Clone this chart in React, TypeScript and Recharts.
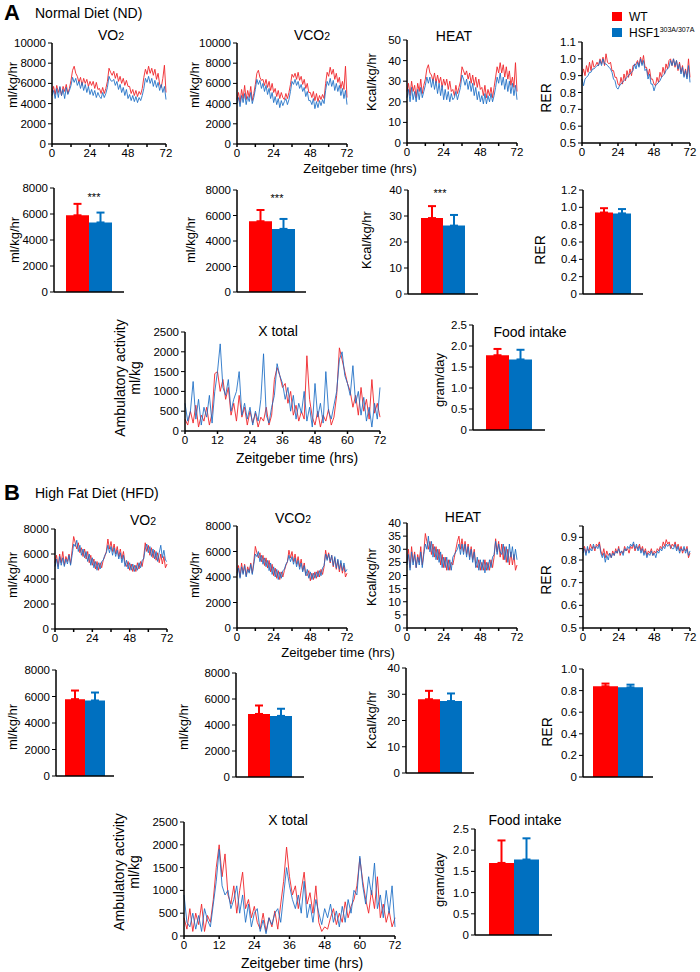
import React from 'react';
import { Bar, BarChart, ErrorBar, Line, LineChart, XAxis, YAxis } from 'recharts';

// ---------- data ----------
const hours = [
  0, 1, 2, 3, 4, 5, 6, 7, 8, 9, 10, 11, 12, 13, 14, 15, 16, 17, 18, 19, 20, 21, 22, 23, 24,
  25, 26, 27, 28, 29, 30, 31, 32, 33, 34, 35, 36, 37, 38, 39, 40, 41, 42, 43, 44, 45, 46, 47, 48,
  49, 50, 51, 52, 53, 54, 55, 56, 57, 58, 59, 60, 61, 62, 63, 64, 65, 66, 67, 68, 69, 70, 71, 72,
];

// Normal diet time courses (WT = red, HSF1 303A/307A = blue)
const ndVo2Wt = [
  5100, 5700, 4900, 5800, 5100, 5600, 4800, 5700, 5200, 5900, 5000, 5500, 6300,
  7300, 7700, 7000, 6700, 6100, 6600, 5800, 6500, 6000, 6400, 5700, 6200,
  5800, 6200, 5500, 6100, 5400, 5500, 5000, 5600, 5000, 5500, 6200, 7500,
  7100, 6800, 7200, 6500, 7000, 6200, 6700, 6000, 6500, 5800, 6300, 5700,
  5700, 5000, 5400, 4800, 5300, 4700, 5200, 4900, 5500, 6600, 7400, 6900,
  7700, 7000, 7500, 6800, 7400, 6400, 7000, 5900, 5600, 6500, 7800, 5100,
];
const ndVo2Ko = [
  4800, 5300, 4500, 5500, 4600, 5700, 4800, 5400, 4500, 5600, 4900, 5300, 5800,
  6600, 6100, 6500, 5800, 6200, 5500, 6100, 5300, 5900, 5100, 5700, 4900,
  5400, 4800, 5300, 4600, 5100, 4700, 4500, 5100, 4600, 5000, 5600, 6700,
  6300, 6200, 6400, 5800, 6200, 5400, 5900, 5100, 5600, 4800, 5400, 4500,
  4900, 4300, 4800, 4200, 4700, 4100, 4600, 4300, 4800, 5500, 6500, 6100,
  6700, 6000, 6500, 5700, 6300, 5600, 6100, 5300, 5900, 5100, 5700, 4400,
];
const ndVco2Wt = [
  4400, 5100, 4100, 5400, 4500, 5800, 4400, 5300, 4600, 5700, 4300, 5000, 5900,
  7000, 7300, 6600, 6300, 6400, 5800, 6400, 5600, 6200, 5300, 6000, 5100,
  5500, 4700, 5300, 4500, 5100, 4600, 4400, 5000, 4500, 5100, 5900, 6900,
  6600, 7000, 6400, 7100, 6300, 6700, 5900, 6400, 5500, 6000, 5100, 5100,
  4600, 5200, 4300, 5000, 4200, 4800, 4400, 4900, 4500, 6000, 7100, 6700,
  7600, 6900, 7400, 6400, 7000, 6100, 6600, 5500, 6200, 5400, 7700, 4600,
];
const ndVco2Ko = [
  4000, 4600, 3700, 4800, 4100, 5000, 3900, 4700, 4200, 5100, 4000, 4600, 5400,
  6400, 5900, 6300, 5500, 6000, 5200, 5800, 4900, 5500, 4500, 5100, 4100,
  4700, 3900, 4500, 3600, 4300, 3800, 4200, 4500, 3900, 4400, 5200, 6200,
  5900, 6400, 5800, 6200, 5500, 5900, 5200, 5600, 4700, 5200, 4300, 4300,
  3900, 4500, 3500, 4200, 3600, 4300, 3800, 4400, 4000, 5300, 6200, 5800,
  6500, 5700, 6300, 5300, 6000, 5200, 5800, 4800, 5500, 4500, 5300, 3900,
];
const ndHeatWt = [
  25, 29, 23, 30, 25, 28, 22, 29, 25, 31, 24, 28, 31,
  36, 38, 34, 33, 30, 34, 29, 33, 29, 32, 27, 31,
  28, 31, 26, 30, 25, 26, 23, 28, 24, 27, 30, 37,
  35, 33, 35, 31, 34, 29, 33, 28, 32, 27, 31, 26,
  27, 23, 28, 22, 26, 23, 27, 22, 27, 32, 37, 34,
  39, 34, 38, 32, 37, 31, 35, 28, 32, 27, 39, 25,
];
const ndHeatKo = [
  22, 26, 20, 27, 21, 25, 20, 26, 21, 27, 22, 25, 28,
  32, 29, 32, 27, 31, 26, 30, 24, 29, 23, 28, 21,
  26, 21, 25, 20, 24, 21, 22, 25, 21, 24, 27, 33,
  31, 28, 31, 26, 30, 25, 29, 23, 27, 21, 25, 20,
  23, 19, 24, 19, 23, 20, 24, 20, 23, 27, 32, 29,
  34, 28, 32, 26, 31, 25, 30, 24, 29, 23, 28, 21,
];
const ndRerWt = [
  0.90, 0.94, 0.90, 0.96, 0.92, 0.98, 0.93, 0.99, 0.95, 0.96, 0.98, 0.96, 1.00,
  0.97, 1.01, 0.96, 1.03, 0.98, 0.97, 0.98, 0.93, 0.93, 0.89, 0.89, 0.85,
  0.84, 0.89, 0.85, 0.91, 0.87, 0.93, 0.89, 0.94, 0.90, 0.96, 0.96, 0.97,
  0.99, 0.96, 1.01, 0.97, 1.02, 0.95, 0.95, 0.90, 0.94, 0.88, 0.88, 0.85,
  0.84, 0.89, 0.86, 0.92, 0.89, 0.95, 0.91, 0.97, 0.94, 0.99, 1.00, 0.96,
  1.00, 0.95, 0.99, 0.93, 0.98, 0.92, 0.96, 0.90, 0.94, 0.89, 1.00, 0.89,
];
const ndRerKo = [
  0.88, 0.84, 0.88, 0.89, 0.90, 0.92, 0.92, 0.94, 0.94, 0.95, 0.96, 0.96, 0.99,
  0.96, 1.00, 0.97, 0.97, 0.96, 0.95, 0.94, 0.92, 0.88, 0.87, 0.83, 0.82,
  0.84, 0.85, 0.86, 0.87, 0.88, 0.89, 0.90, 0.91, 0.92, 0.93, 0.97, 0.94,
  0.98, 0.95, 1.00, 0.96, 0.99, 0.93, 0.94, 0.88, 0.91, 0.85, 0.85, 0.81,
  0.84, 0.85, 0.86, 0.87, 0.89, 0.90, 0.91, 0.93, 0.94, 0.95, 0.99, 0.96,
  1.00, 0.96, 0.99, 0.94, 0.97, 0.91, 0.95, 0.89, 0.93, 0.88, 0.96, 0.86,
];
const ndXWt = [
  300, 150, 500, 200, 650, 100, 400, 250, 600, 150, 450, 1450, 1500,
  1000, 1300, 800, 1100, 400, 700, 250, 900, 350, 600, 150, 500,
  200, 450, 100, 350, 250, 600, 150, 400, 1300, 1600, 1400, 1100,
  1200, 700, 1000, 400, 650, 250, 500, 300, 1900, 800, 350, 150,
  500, 100, 400, 250, 550, 150, 350, 900, 2100, 1800, 1500, 1200,
  1000, 600, 900, 400, 1100, 500, 800, 300, 1300, 450, 700, 350,
];
const ndXKo = [
  700, 250, 500, 1250, 300, 800, 150, 600, 350, 900, 200, 1000, 1500,
  2200, 1100, 900, 1300, 500, 800, 1000, 1500, 400, 700, 300, 600,
  150, 500, 250, 800, 1950, 400, 200, 600, 900, 1700, 1400, 1200,
  800, 1100, 500, 900, 300, 700, 450, 1000, 250, 600, 100, 1200,
  350, 700, 200, 1500, 500, 300, 650, 1000, 1800, 2000, 1400, 1200,
  900, 1650, 700, 1000, 400, 850, 250, 600, 100, 700, 300, 1100,
];

// High fat diet time courses
const hfVo2Wt = [
  5300, 5900, 5000, 6000, 5300, 6200, 5100, 5800, 5400, 6000, 5200, 6300, 7400,
  6900, 6400, 6900, 6100, 6500, 5800, 6400, 5600, 6200, 5300, 5900, 5100,
  5600, 4800, 5400, 4700, 5300, 4900, 5500, 5800, 6200, 7200, 6400, 7000,
  6200, 6800, 6000, 6600, 5800, 6400, 5600, 6200, 5300, 5000, 5400, 4700,
  5200, 4600, 5100, 4600, 5300, 4800, 5400, 5000, 5700, 6900, 6200, 6700,
  5900, 6500, 5700, 6300, 5500, 6100, 5300, 6000, 5200, 5800, 4900, 5200,
];
const hfVo2Ko = [
  5000, 5600, 4800, 5800, 5100, 5700, 5000, 5600, 5200, 5900, 5100, 5900, 6800,
  6600, 7100, 6200, 6700, 5900, 6400, 5700, 6200, 5400, 6000, 5100, 5700,
  4900, 5400, 4700, 5300, 4800, 5400, 5500, 5900, 6100, 6700, 6100, 6600,
  5900, 6500, 5800, 6300, 5600, 6100, 5300, 5900, 5000, 5500, 4800, 5300,
  4700, 5200, 4600, 5100, 4700, 5300, 4900, 5500, 5600, 6400, 6800, 6100,
  6600, 5800, 6400, 5600, 6200, 5400, 6100, 6700, 5700, 6300, 5500, 5400,
];
const hfVco2Wt = [
  4300, 4900, 4000, 5100, 4300, 5000, 4100, 4800, 4400, 5100, 4300, 5200, 6400,
  5900, 5500, 5900, 5200, 5700, 4900, 5500, 4700, 5300, 4400, 5000, 4100,
  4700, 3900, 4500, 3800, 4400, 4000, 4500, 4900, 5200, 6100, 5500, 6000,
  5200, 5800, 5000, 5600, 4800, 5400, 4500, 5100, 4200, 4100, 4500, 3700,
  4300, 3800, 4400, 3900, 4500, 4000, 4600, 4200, 4800, 6100, 5400, 5900,
  5100, 5700, 4800, 5500, 4600, 5300, 4400, 5100, 4300, 4900, 4000, 4300,
];
const hfVco2Ko = [
  4100, 4700, 3900, 4800, 4200, 4900, 4000, 4600, 4300, 5000, 4200, 5000, 5800,
  5600, 6000, 5200, 5700, 5000, 5500, 4800, 5300, 4500, 5100, 4200, 4800,
  4000, 4600, 3800, 4400, 3900, 4500, 4600, 5000, 5200, 5700, 5200, 5600,
  5000, 5500, 4800, 5300, 4600, 5100, 4400, 4900, 4100, 4600, 3900, 4400,
  3800, 4300, 3900, 4400, 4000, 4500, 4100, 4700, 4900, 5800, 5300, 5800,
  5200, 5700, 4900, 5600, 4700, 5400, 4600, 5300, 4500, 5100, 4400, 4600,
];
const hfHeatWt = [
  25, 30, 23, 31, 25, 29, 23, 28, 25, 31, 24, 29, 36,
  33, 30, 33, 28, 32, 27, 31, 26, 30, 24, 28, 23,
  27, 22, 26, 22, 25, 24, 27, 30, 33, 35, 30, 34,
  29, 33, 28, 32, 27, 31, 26, 30, 24, 23, 26, 22,
  25, 22, 26, 22, 25, 22, 26, 23, 27, 34, 29, 33,
  27, 32, 26, 31, 25, 30, 24, 29, 24, 28, 22, 24,
];
const hfHeatKo = [
  24, 28, 22, 29, 24, 28, 23, 27, 24, 29, 23, 28, 32,
  30, 35, 29, 33, 27, 31, 26, 30, 25, 29, 23, 27,
  23, 27, 22, 26, 22, 27, 28, 29, 30, 32, 28, 32,
  28, 32, 27, 31, 26, 30, 25, 29, 23, 27, 22, 26,
  22, 26, 21, 25, 22, 26, 23, 27, 28, 33, 28, 32,
  29, 28, 32, 26, 31, 25, 32, 27, 31, 26, 30, 26,
];
const hfRerWt = [
  0.84, 0.86, 0.83, 0.85, 0.84, 0.87, 0.85, 0.86, 0.84, 0.87, 0.86, 0.88, 0.84,
  0.82, 0.85, 0.81, 0.84, 0.82, 0.83, 0.81, 0.84, 0.82, 0.85, 0.83, 0.86,
  0.82, 0.84, 0.83, 0.86, 0.84, 0.85, 0.83, 0.86, 0.85, 0.87, 0.84, 0.86,
  0.85, 0.87, 0.84, 0.86, 0.83, 0.85, 0.82, 0.84, 0.83, 0.85, 0.82, 0.84,
  0.83, 0.85, 0.84, 0.86, 0.85, 0.88, 0.86, 0.89, 0.87, 0.88, 0.85, 0.87,
  0.86, 0.88, 0.85, 0.87, 0.84, 0.86, 0.83, 0.85, 0.84, 0.86, 0.81, 0.83,
];
const hfRerKo = [
  0.83, 0.85, 0.82, 0.86, 0.83, 0.85, 0.84, 0.87, 0.85, 0.86, 0.85, 0.87, 0.83,
  0.81, 0.83, 0.79, 0.82, 0.80, 0.83, 0.81, 0.83, 0.82, 0.84, 0.83, 0.85,
  0.83, 0.84, 0.82, 0.85, 0.84, 0.86, 0.85, 0.87, 0.86, 0.88, 0.85, 0.87,
  0.84, 0.86, 0.83, 0.85, 0.82, 0.84, 0.81, 0.83, 0.82, 0.84, 0.82, 0.83,
  0.81, 0.84, 0.83, 0.85, 0.84, 0.86, 0.85, 0.87, 0.86, 0.87, 0.86, 0.85,
  0.85, 0.87, 0.84, 0.86, 0.83, 0.85, 0.84, 0.86, 0.83, 0.85, 0.82, 0.84,
];
const hfXWt = [
  400, 150, 600, 100, 500, 250, 700, 100, 450, 300, 800, 1500, 2000,
  1300, 1800, 900, 700, 1100, 500, 1000, 1400, 600, 800, 400, 650,
  300, 150, 500, 100, 400, 200, 550, 150, 700, 1200, 1950, 1300,
  900, 1100, 600, 1000, 1400, 700, 950, 500, 1100, 300, 100, 200,
  150, 400, 600, 250, 500, 300, 750, 400, 650, 800, 1100, 1700,
  1200, 800, 500, 1000, 600, 1300, 400, 700, 300, 550, 200, 400,
];
const hfXKo = [
  900, 300, 200, 500, 150, 450, 100, 600, 350, 200, 700, 1200, 1900,
  1100, 900, 1000, 600, 800, 1100, 500, 900, 300, 700, 200, 500,
  600, 100, 350, 50, 400, 250, 500, 600, 300, 900, 1500, 1100,
  800, 600, 900, 500, 1200, 400, 700, 300, 800, 500, 250, 600,
  400, 700, 300, 550, 200, 650, 300, 800, 500, 1000, 900, 1750,
  1100, 700, 1300, 900, 1600, 600, 900, 400, 1000, 500, 1100, 200,
];

// Averages [WT, HSF1] and their SD (upper whisker)
const ndVo2Mean = [5900, 5350];
const ndVo2Sd = [880, 760];
const ndVco2Mean = [5550, 4950];
const ndVco2Sd = [880, 780];
const ndHeatMean = [29.2, 26.3];
const ndHeatSd = [4.6, 4.1];
const ndRerMean = [0.94, 0.93];
const ndRerSd = [0.05, 0.05];
const ndFoodMean = [1.78, 1.68];
const ndFoodSd = [0.15, 0.23];

const hfVo2Mean = [5800, 5700];
const hfVo2Sd = [650, 600];
const hfVco2Mean = [4850, 4700];
const hfVco2Sd = [650, 550];
const hfHeatMean = [28.1, 27.4];
const hfHeatSd = [3.2, 2.9];
const hfRerMean = [0.84, 0.83];
const hfRerSd = [0.025, 0.025];
const hfFoodMean = [1.70, 1.78];
const hfFoodSd = [0.53, 0.5];

// tick values
const dayTicks = [0, 12, 24, 36, 48, 60, 72];
const ndGasTicks = [0, 2000, 4000, 6000, 8000, 10000];
const ndHeatTicks = [0, 10, 20, 30, 40, 50];
const ndRerTicks = [0.5, 0.6, 0.7, 0.8, 0.9, 1.0, 1.1];
const gasBarTicks = [0, 2000, 4000, 6000, 8000];
const heatBarTicks = [0, 10, 20, 30, 40];
const ndRerBarTicks = [0, 0.2, 0.4, 0.6, 0.8, 1.0, 1.2];
const xTotalTicks = [0, 500, 1000, 1500, 2000, 2500];
const foodTicks = [0, 0.5, 1.0, 1.5, 2.0, 2.5];
const hfGasTicks = [0, 2000, 4000, 6000, 8000];
const hfHeatTicks = [0, 5, 10, 15, 20, 25, 30, 35, 40];
const hfRerTicks = [0.5, 0.55, 0.6, 0.65, 0.7, 0.75, 0.8, 0.85, 0.9, 0.95];
const hfRerBarTicks = [0, 0.2, 0.4, 0.6, 0.8, 1.0];

// ---------- styling ----------
const RED = '#ff0000';
const BLUE = '#0070c0';
const LINE_RED = '#f0262b';
const LINE_BLUE = '#1a6cc4';
const FONT = '"Liberation Sans", Arial, Helvetica, sans-serif';
const TICK = { fill: '#000', fontSize: 11.5, fontFamily: FONT };
const AXIS = { stroke: '#000', strokeWidth: 1.5 };

const dayLabel = (v: number) => (v % 24 === 0 ? String(v) : '');
const oneDec = (v: number) => (v === 0 ? '0' : v.toFixed(1));
const tenths = (v: number) => (Math.abs(v * 10 - Math.round(v * 10)) < 1e-6 ? v.toFixed(1) : '');

const YW = 52;

interface TimeProps {
  x: number;
  y: number;
  w: number;
  h: number;
  wt: number[];
  ko: number[];
  domain: [number, number];
  yTicks: number[];
  fmtY?: (v: number) => string;
  fmtX?: (v: number) => string;
}

const TimeChart: React.FC<TimeProps> = ({ x, y, w, h, wt, ko, domain, yTicks, fmtY, fmtX = dayLabel }) => {
  const top = 8;
  const right = 12;
  const xh = 22;
  const data = hours.map((t, i) => ({ t, wt: wt[i], ko: ko[i] }));
  return (
    <div style={{ position: 'absolute', left: x - YW, top: y - top }}>
      <LineChart width={YW + w + right} height={top + h + xh} data={data} margin={{ top, right, left: 0, bottom: 0 }}>
        <XAxis
          dataKey="t"
          type="number"
          domain={[0, 72]}
          ticks={dayTicks}
          interval={0}
          tickFormatter={fmtX}
          height={xh}
          axisLine={AXIS}
          tickLine={{ stroke: '#000', strokeWidth: 1.5 }}
          tickSize={3}
          tick={TICK}
        />
        <YAxis
          type="number"
          domain={domain}
          ticks={yTicks}
          interval={0}
          tickFormatter={fmtY}
          width={YW}
          axisLine={AXIS}
          tickLine={{ stroke: '#000' }}
          tickSize={4}
          tick={TICK}
        />
        <Line type="linear" dataKey="wt" stroke={LINE_RED} strokeWidth={1} strokeOpacity={0.9} dot={false} isAnimationActive={false} />
        <Line type="linear" dataKey="ko" stroke={LINE_BLUE} strokeWidth={1} strokeOpacity={0.85} dot={false} isAnimationActive={false} />
      </LineChart>
    </div>
  );
};

interface BarProps {
  x: number;
  y: number;
  w: number;
  h: number;
  mean: number[];
  sd: number[];
  domain: [number, number];
  ticks: number[];
  fmt?: (v: number) => string;
  size: number;
}

const BarPanel: React.FC<BarProps> = ({ x, y, w, h, mean, sd, domain, ticks, fmt, size }) => {
  const top = 8;
  const right = 2;
  const xh = 12;
  const data = [{ name: 'g', wt: mean[0], ko: mean[1], wtErr: [0, sd[0]], koErr: [0, sd[1]] }];
  return (
    <div style={{ position: 'absolute', left: x - YW, top: y - top }}>
      <BarChart width={YW + w + right} height={top + h + xh} data={data} margin={{ top, right, left: 0, bottom: 0 }} barGap={0}>
        <XAxis dataKey="name" tick={false} tickLine={false} axisLine={AXIS} height={xh} />
        <YAxis
          type="number"
          domain={domain}
          ticks={ticks}
          interval={0}
          tickFormatter={fmt}
          width={YW}
          axisLine={AXIS}
          tickLine={{ stroke: '#000' }}
          tickSize={4}
          tick={TICK}
        />
        <Bar dataKey="wt" fill={RED} barSize={size} isAnimationActive={false}>
          <ErrorBar dataKey="wtErr" width={4} stroke={RED} strokeWidth={2} direction="y" />
        </Bar>
        <Bar dataKey="ko" fill={BLUE} barSize={size} isAnimationActive={false}>
          <ErrorBar dataKey="koErr" width={4} stroke={BLUE} strokeWidth={2} direction="y" />
        </Bar>
      </BarChart>
    </div>
  );
};

const Txt: React.FC<{ x: number; y: number; size?: number; rot?: boolean; bold?: boolean; left?: boolean; children: React.ReactNode }> = ({
  x,
  y,
  size = 13,
  rot = false,
  bold = false,
  left = false,
  children,
}) => (
  <div
    style={{
      position: 'absolute',
      left: x,
      top: y,
      transform: `translate(${left ? '0' : '-50%'}, -50%)${rot ? ' rotate(-90deg)' : ''}`,
      fontSize: size,
      fontWeight: bold ? 700 : 400,
      whiteSpace: 'nowrap',
      lineHeight: 1.05,
      textAlign: 'center',
    }}
  >
    {children}
  </div>
);

const Sub2 = () => <span style={{ fontSize: '0.75em' }}>2</span>;

const App: React.FC = () => (
  <div style={{ position: 'absolute', left: 0, top: 0, width: 700, height: 972, background: '#fff', fontFamily: FONT, color: '#000', overflow: 'hidden' }}>
    {/* ---------- A: normal diet ---------- */}
    <Txt x={4} y={13} size={22} bold left>A</Txt>
    <Txt x={35} y={13} size={14} left>Normal Diet (ND)</Txt>

    <div style={{ position: 'absolute', left: 612, top: 12, width: 10, height: 9, background: RED }} />
    <Txt x={629} y={17} size={12} left>WT</Txt>
    <div style={{ position: 'absolute', left: 612, top: 28, width: 10, height: 9, background: BLUE }} />
    <Txt x={629} y={33} size={12} left>
      HSF1<sup style={{ fontSize: 7 }}>303A/307A</sup>
    </Txt>

    <TimeChart x={52} y={43} w={114} h={101} wt={ndVo2Wt} ko={ndVo2Ko} domain={[0, 10000]} yTicks={ndGasTicks} />
    <TimeChart x={237} y={43} w={110} h={101} wt={ndVco2Wt} ko={ndVco2Ko} domain={[0, 10000]} yTicks={ndGasTicks} />
    <TimeChart x={407} y={40} w={110} h={103} wt={ndHeatWt} ko={ndHeatKo} domain={[0, 50]} yTicks={ndHeatTicks} />
    <TimeChart x={582} y={42} w={108} h={101} wt={ndRerWt} ko={ndRerKo} domain={[0.5, 1.1]} yTicks={ndRerTicks} fmtY={(v) => v.toFixed(1)} />

    <Txt x={111} y={35} size={14}>VO<Sub2 /></Txt>
    <Txt x={312} y={35} size={14}>VCO<Sub2 /></Txt>
    <Txt x={454} y={36} size={14}>HEAT</Txt>
    <Txt x={13} y={85} rot>ml/kg/hr</Txt>
    <Txt x={195} y={85} rot>ml/kg/hr</Txt>
    <Txt x={372} y={82} rot>Kcal/kg/hr</Txt>
    <Txt x={546} y={98} rot size={14}>RER</Txt>
    <Txt x={360} y={169} size={13}>Zeitgeber time (hrs)</Txt>

    <BarPanel x={54} y={188} w={70} h={104} mean={ndVo2Mean} sd={ndVo2Sd} domain={[0, 8000]} ticks={gasBarTicks} size={23} />
    <BarPanel x={237} y={190} w={69} h={102} mean={ndVco2Mean} sd={ndVco2Sd} domain={[0, 8000]} ticks={gasBarTicks} size={23} />
    <BarPanel x={408} y={190} w={70} h={104} mean={ndHeatMean} sd={ndHeatSd} domain={[0, 40]} ticks={heatBarTicks} size={22} />
    <BarPanel x={583} y={190} w={60} h={104} mean={ndRerMean} sd={ndRerSd} domain={[0, 1.2]} ticks={ndRerBarTicks} fmt={oneDec} size={18} />

    <Txt x={94} y={198} size={11}>***</Txt>
    <Txt x={277} y={199} size={11}>***</Txt>
    <Txt x={440} y={194} size={11}>***</Txt>
    <Txt x={15} y={240} rot>ml/kg/hr</Txt>
    <Txt x={191} y={240} rot>ml/kg/hr</Txt>
    <Txt x={367} y={240} rot>Kcal/kg/hr</Txt>
    <Txt x={540} y={250} rot size={14}>RER</Txt>

    <TimeChart x={185} y={332} w={195} h={99} wt={ndXWt} ko={ndXKo} domain={[0, 2500]} yTicks={xTotalTicks} fmtX={(v) => String(v)} />
    <Txt x={278} y={331} size={14}>X total</Txt>
    <Txt x={128} y={378} rot size={14}>
      Ambulatory activity
      <br />
      ml/kg
    </Txt>
    <Txt x={297} y={458} size={14}>Zeitgeber time (hrs)</Txt>

    <BarPanel x={473} y={325} w={72} h={105} mean={ndFoodMean} sd={ndFoodSd} domain={[0, 2.5]} ticks={foodTicks} fmt={oneDec} size={23} />
    <Txt x={530} y={332} size={14}>Food intake</Txt>
    <Txt x={440} y={380} rot>gram/day</Txt>

    {/* ---------- B: high fat diet ---------- */}
    <Txt x={4} y={493} size={22} bold left>B</Txt>
    <Txt x={35} y={493} size={14} left>High Fat Diet (HFD)</Txt>

    <TimeChart x={55} y={529} w={112} h={100} wt={hfVo2Wt} ko={hfVo2Ko} domain={[0, 8000]} yTicks={hfGasTicks} />
    <TimeChart x={237} y={526} w={110} h={102} wt={hfVco2Wt} ko={hfVco2Ko} domain={[0, 8000]} yTicks={hfGasTicks} />
    <TimeChart x={407} y={523} w={110} h={105} wt={hfHeatWt} ko={hfHeatKo} domain={[0, 40]} yTicks={hfHeatTicks} />
    <TimeChart x={583} y={526} w={107} h={102} wt={hfRerWt} ko={hfRerKo} domain={[0.5, 0.95]} yTicks={hfRerTicks} fmtY={tenths} />

    <Txt x={143} y={520} size={14}>VO<Sub2 /></Txt>
    <Txt x={293} y={518} size={14}>VCO<Sub2 /></Txt>
    <Txt x={463} y={517} size={14}>HEAT</Txt>
    <Txt x={13} y={575} rot>ml/kg/hr</Txt>
    <Txt x={195} y={575} rot>ml/kg/hr</Txt>
    <Txt x={372} y={577} rot>Kcal/kg/hr</Txt>
    <Txt x={546} y={580} rot size={14}>RER</Txt>
    <Txt x={338} y={653} size={13}>Zeitgeber time (hrs)</Txt>

    <BarPanel x={56} y={670} w={58} h={106} mean={hfVo2Mean} sd={hfVo2Sd} domain={[0, 8000]} ticks={gasBarTicks} size={20} />
    <BarPanel x={236} y={673} w={68} h={104} mean={hfVco2Mean} sd={hfVco2Sd} domain={[0, 8000]} ticks={gasBarTicks} size={22} />
    <BarPanel x={406} y={668} w={68} h={105} mean={hfHeatMean} sd={hfHeatSd} domain={[0, 40]} ticks={heatBarTicks} size={22} />
    <BarPanel x={583} y={669} w={70} h={108} mean={hfRerMean} sd={hfRerSd} domain={[0, 1.0]} ticks={hfRerBarTicks} fmt={oneDec} size={25} />

    <Txt x={13} y={727} rot>ml/kg/hr</Txt>
    <Txt x={184} y={727} rot>ml/kg/hr</Txt>
    <Txt x={372} y={720} rot>Kcal/kg/hr</Txt>
    <Txt x={547} y={732} rot size={14}>RER</Txt>

    <TimeChart x={184} y={822} w={211} h={114} wt={hfXWt} ko={hfXKo} domain={[0, 2500]} yTicks={xTotalTicks} fmtX={(v) => String(v)} />
    <Txt x={288} y={820} size={14}>X total</Txt>
    <Txt x={127} y={872} rot size={14}>
      Ambulatory activity
      <br />
      ml/kg
    </Txt>
    <Txt x={302} y={963} size={14}>Zeitgeber time (hrs)</Txt>

    <BarPanel x={475} y={829} w={77} h={106} mean={hfFoodMean} sd={hfFoodSd} domain={[0, 2.5]} ticks={foodTicks} fmt={oneDec} size={25} />
    <Txt x={525} y={820} size={14}>Food intake</Txt>
    <Txt x={440} y={880} rot>gram/day</Txt>
  </div>
);

export default App;
